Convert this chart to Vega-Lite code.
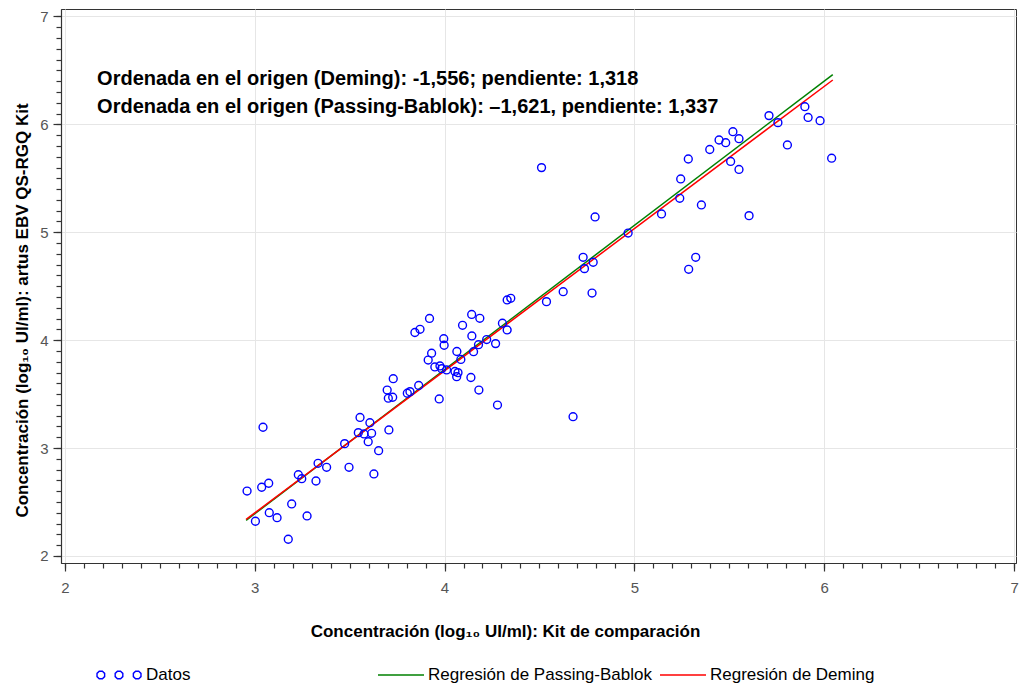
{
  "$schema": "https://vega.github.io/schema/vega-lite/v6.json",
  "width": 955,
  "height": 554,
  "autosize": {"type": "none"},
  "padding": {"left": 61, "top": 9, "right": 3, "bottom": 121},
  "background": "white",
  "config": {
    "view": {"stroke": "#333333", "strokeWidth": 1},
    "axis": {"tickColor": "#333333", "domainColor": "#333333", "tickWidth": 1.2, "domainWidth": 1.2, "labelFont": "Liberation Sans", "titleFont": "Liberation Sans"}
  },
  "datasets": {
    "points": [
      {"x": 2.960, "y": 2.602}, {"x": 3.044, "y": 3.193}, {"x": 3.037, "y": 2.637}, {"x": 3.074, "y": 2.674},
      {"x": 3.004, "y": 2.322}, {"x": 3.077, "y": 2.401}, {"x": 3.118, "y": 2.355}, {"x": 3.177, "y": 2.155},
      {"x": 3.195, "y": 2.482}, {"x": 3.276, "y": 2.371}, {"x": 3.230, "y": 2.753}, {"x": 3.248, "y": 2.716},
      {"x": 3.323, "y": 2.695}, {"x": 3.334, "y": 2.859}, {"x": 3.379, "y": 2.822}, {"x": 3.497, "y": 2.822},
      {"x": 3.474, "y": 3.041}, {"x": 3.628, "y": 2.760}, {"x": 3.653, "y": 2.976}, {"x": 3.555, "y": 3.284},
      {"x": 3.607, "y": 3.235}, {"x": 3.546, "y": 3.143}, {"x": 3.576, "y": 3.131}, {"x": 3.616, "y": 3.137},
      {"x": 3.598, "y": 3.059}, {"x": 3.707, "y": 3.168}, {"x": 3.730, "y": 3.643}, {"x": 3.698, "y": 3.538},
      {"x": 3.704, "y": 3.462}, {"x": 3.727, "y": 3.471}, {"x": 3.804, "y": 3.508}, {"x": 3.818, "y": 3.523},
      {"x": 3.864, "y": 3.580}, {"x": 3.972, "y": 3.455}, {"x": 3.844, "y": 4.071}, {"x": 3.871, "y": 4.101},
      {"x": 3.921, "y": 4.201}, {"x": 3.996, "y": 4.014}, {"x": 3.998, "y": 3.953}, {"x": 3.932, "y": 3.879},
      {"x": 3.914, "y": 3.816}, {"x": 3.949, "y": 3.752}, {"x": 3.976, "y": 3.761}, {"x": 3.985, "y": 3.736},
      {"x": 4.011, "y": 3.724}, {"x": 4.055, "y": 3.710}, {"x": 4.071, "y": 3.699}, {"x": 4.064, "y": 3.662},
      {"x": 4.065, "y": 3.895}, {"x": 4.086, "y": 3.821}, {"x": 4.139, "y": 3.654}, {"x": 4.181, "y": 3.538},
      {"x": 4.279, "y": 3.399}, {"x": 4.143, "y": 4.238}, {"x": 4.186, "y": 4.203}, {"x": 4.095, "y": 4.138},
      {"x": 4.144, "y": 4.039}, {"x": 4.153, "y": 3.893}, {"x": 4.179, "y": 3.958}, {"x": 4.222, "y": 4.006},
      {"x": 4.269, "y": 3.968}, {"x": 4.305, "y": 4.157}, {"x": 4.330, "y": 4.095}, {"x": 4.330, "y": 4.373},
      {"x": 4.349, "y": 4.388}, {"x": 4.537, "y": 4.357}, {"x": 4.511, "y": 5.599}, {"x": 4.793, "y": 5.142},
      {"x": 4.967, "y": 4.993}, {"x": 4.730, "y": 4.768}, {"x": 4.737, "y": 4.663}, {"x": 4.783, "y": 4.722},
      {"x": 4.625, "y": 4.449}, {"x": 4.777, "y": 4.437}, {"x": 4.677, "y": 3.291}, {"x": 5.143, "y": 5.170},
      {"x": 5.239, "y": 5.315}, {"x": 5.244, "y": 5.494}, {"x": 5.284, "y": 5.679}, {"x": 5.353, "y": 5.253},
      {"x": 5.323, "y": 4.768}, {"x": 5.286, "y": 4.657}, {"x": 5.397, "y": 5.767}, {"x": 5.446, "y": 5.855},
      {"x": 5.481, "y": 5.830}, {"x": 5.519, "y": 5.932}, {"x": 5.551, "y": 5.867}, {"x": 5.507, "y": 5.656},
      {"x": 5.551, "y": 5.582}, {"x": 5.604, "y": 5.154}, {"x": 5.709, "y": 6.081}, {"x": 5.756, "y": 6.016},
      {"x": 5.806, "y": 5.809}, {"x": 5.898, "y": 6.164}, {"x": 5.915, "y": 6.064}, {"x": 5.978, "y": 6.034},
      {"x": 6.039, "y": 5.686}
    ],
    "lines": [
      {"method": "Regresión de Passing-Bablok", "x": 2.955, "y": 2.330},
      {"method": "Regresión de Passing-Bablok", "x": 6.045, "y": 6.461},
      {"method": "Regresión de Deming", "x": 2.955, "y": 2.339},
      {"method": "Regresión de Deming", "x": 6.045, "y": 6.411}
    ]
  },
  "layer": [
    {
      "data": {"name": "lines"},
      "mark": {"type": "line", "strokeWidth": 1.5},
      "encoding": {
        "x": {"field": "x", "type": "quantitative", "scale": {"domain": [1.98, 7.01], "nice": false, "zero": false},
          "axis": {"orient": "bottom", "values": [2,2.1,2.2,2.3,2.4,2.5,2.6,2.7,2.8,2.9,3,3.1,3.2,3.3,3.4,3.5,3.6,3.7,3.8,3.9,4,4.1,4.2,4.3,4.4,4.5,4.6,4.7,4.8,4.9,5,5.1,5.2,5.3,5.4,5.5,5.6,5.7,5.8,5.9,6,6.1,6.2,6.3,6.4,6.5,6.6,6.7,6.8,6.9,7], "tickSize": 5, "labels": false, "grid": false, "domain": false, "title": null}},
        "y": {"field": "y", "type": "quantitative", "scale": {"domain": [1.935, 7.069], "nice": false, "zero": false},
          "axis": {"orient": "left", "values": [2,2.1,2.2,2.3,2.4,2.5,2.6,2.7,2.8,2.9,3,3.1,3.2,3.3,3.4,3.5,3.6,3.7,3.8,3.9,4,4.1,4.2,4.3,4.4,4.5,4.6,4.7,4.8,4.9,5,5.1,5.2,5.3,5.4,5.5,5.6,5.7,5.8,5.9,6,6.1,6.2,6.3,6.4,6.5,6.6,6.7,6.8,6.9,7], "tickSize": 5, "labels": false, "grid": false, "domain": false, "title": null}},
        "color": {"field": "method", "type": "nominal",
          "scale": {"domain": ["Datos", "Regresión de Passing-Bablok", "Regresión de Deming"], "range": ["#0000ff", "#008000", "#ff0000"]},
          "legend": {
            "orient": "none", "legendX": 34, "legendY": 642, "direction": "horizontal", "title": null,
            "symbolSize": 2116, "symbolStrokeWidth": 1.4, "labelFontSize": 17, "labelFont": "Liberation Sans", "labelColor": "#000000",
            "labelLimit": 400, "labelOffset": 3, "columnPadding": 5, "gridAlign": "all", "padding": 0,
            "encode": {"symbols": {"update": {
              "shape": {"signal": "datum.value === 'Datos' ? 'M-0.721,-0.166L-0.624,-0.069L-0.624,0.069L-0.721,0.166L-0.859,0.166L-0.956,0.069L-0.956,-0.069L-0.859,-0.166ZM0.069,-0.166L0.166,-0.069L0.166,0.069L0.069,0.166L-0.069,0.166L-0.166,0.069L-0.166,-0.069L-0.069,-0.166ZM0.859,-0.166L0.956,-0.069L0.956,0.069L0.859,0.166L0.721,0.166L0.624,0.069L0.624,-0.069L0.721,-0.166Z' : 'stroke'"},
              "stroke": {"scale": "color", "field": "value"},
              "fill": {"value": "transparent"},
              "strokeWidth": {"value": 1.4},
              "opacity": {"value": 1}
            }}}
          }}
      }
    },
    {
      "data": {"name": "points"},
      "mark": {"type": "point", "shape": "circle", "filled": false, "size": 62, "strokeWidth": 1.4, "opacity": 1},
      "encoding": {
        "x": {"field": "x", "type": "quantitative",
          "axis": {"orient": "bottom", "values": [2,3,4,5,6,7], "tickSize": 8, "labelFontSize": 15, "labelColor": "#555555", "labelPadding": 9, "labelFlush": false,
            "grid": true, "gridColor": "#e6e6e6", "gridWidth": 1,
            "title": "Concentración (log₁₀ UI/ml): Kit de comparación", "titleFontSize": 17, "titleFontWeight": "bold", "titleColor": "#000000",
            "titleX": 444, "titleY": 73, "titleBaseline": "alphabetic", "titleAlign": "center"}},
        "y": {"field": "y", "type": "quantitative",
          "axis": {"orient": "left", "values": [2,3,4,5,6,7], "tickSize": 8, "labelFontSize": 15, "labelColor": "#555555", "labelPadding": 5, "labelFlush": false,
            "grid": true, "gridColor": "#e6e6e6", "gridWidth": 1,
            "title": "Concentración (log₁₀ UI/ml): artus EBV QS-RGQ Kit", "titleFontSize": 17, "titleFontWeight": "bold", "titleColor": "#000000",
            "titleX": -34, "titleY": 301, "titleBaseline": "alphabetic", "titleAlign": "center", "titleAngle": -90}},
        "color": {"datum": "Datos", "type": "nominal"}
      }
    },
    {
      "data": {"values": [{}]},
      "mark": {"type": "text", "align": "left", "baseline": "alphabetic", "font": "Liberation Sans", "fontWeight": "bold", "fontSize": 20, "color": "#000000", "lineHeight": 28,
        "text": ["Ordenada en el origen (Deming): -1,556; pendiente: 1,318", "Ordenada en el origen (Passing-Bablok): –1,621, pendiente: 1,337"]},
      "encoding": {
        "x": {"datum": 2.17, "type": "quantitative", "axis": null},
        "y": {"datum": 6.365, "type": "quantitative", "axis": null}
      }
    }
  ],
  "resolve": {"axis": {"x": "independent", "y": "independent"}}
}
